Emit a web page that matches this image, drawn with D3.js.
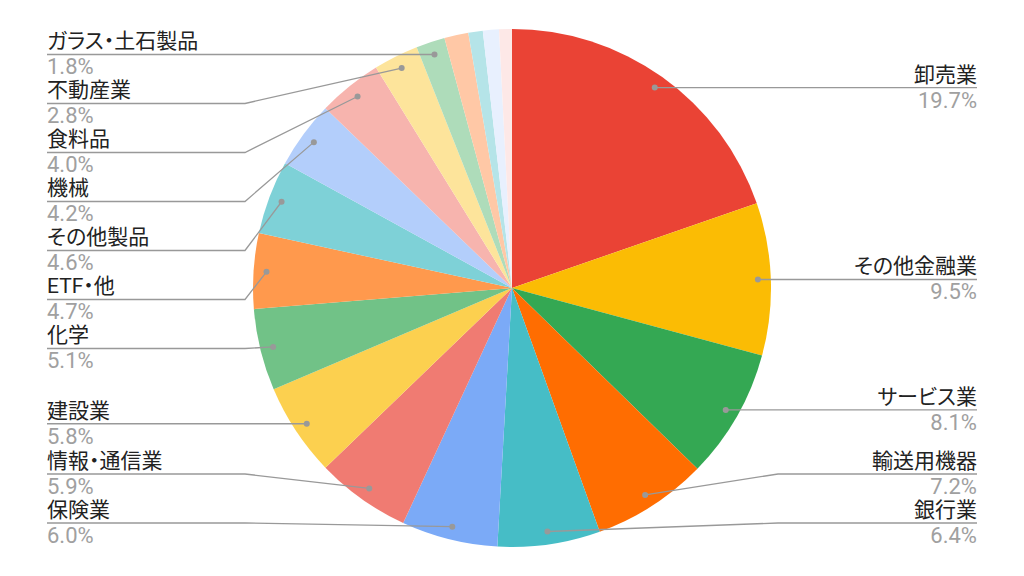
<!DOCTYPE html>
<html><head><meta charset="utf-8">
<script src="https://cdn.jsdelivr.net/npm/d3@7"></script>
<style>
html,body{margin:0;padding:0;background:#fff;}
text{font-family:Roboto,"Noto Sans CJK JP",sans-serif;font-feature-settings:"palt";}
</style></head>
<body><svg id="chart" width="1024" height="576"></svg>
<script>
const categories = ["卸売業","その他金融業","サービス業","輸送用機器","銀行業","保険業","情報・通信業","建設業","化学","ETF・他","その他製品","機械","食料品","不動産業","ガラス・土石製品","その他A","その他B","その他C","その他D"];
const values = [19.7,9.5,8.1,7.2,6.4,6.0,5.9,5.8,5.1,4.7,4.6,4.2,4.0,2.8,1.8,1.5,0.9,1.0,0.8];
const colors = ["#ea4335","#fbbc04","#34a853","#ff6d01","#46bdc6","#7baaf7","#f07b72","#fcd04f","#71c287","#ff994d","#7ed1d7","#b3cefb","#f7b4ae","#fde49b","#aedcba","#ffc8a6","#b5e4e8","#e8f0fe","#fde8e7"];
const pctLabels = ["19.7%","9.5%","8.1%","7.2%","6.4%","6.0%","5.9%","5.8%","5.1%","4.7%","4.6%","4.2%","4.0%","2.8%","1.8%","","","",""];

const W=1024,H=576,cx=512,cy=288,R=259;
const svg=d3.select("#chart");
const g=svg.append("g").attr("transform",`translate(${cx},${cy})`);
const pie=d3.pie().sort(null).value(d=>d.v);
const data=categories.map((c,i)=>({c,v:values[i],col:colors[i],p:pctLabels[i]}));
const arcs=pie(data);
const arc=d3.arc().innerRadius(0).outerRadius(R);
g.selectAll("path.slice").data(arcs).enter().append("path")
 .attr("d",arc).attr("fill",d=>d.data.col);

// labels
const dotR=R*0.95;
const labeled=arcs.filter(a=>a.data.p!=="");
labeled.forEach(a=>{
  const m=(a.startAngle+a.endAngle)/2;
  a.dx=cx+dotR*Math.sin(m); a.dy=cy-dotR*Math.cos(m);
  a.side = Math.sin(m)>=0 ? "R":"L";
});
const gap=49, yMin=53, yMax=523;
["L","R"].forEach(side=>{
  const arr=labeled.filter(a=>a.side===side).sort((a,b)=>a.dy-b.dy);
  arr.forEach((a,i)=>{ a.ly=Math.max(a.dy, yMin, i>0?arr[i-1].ly+gap:-1e9); });
  for(let i=arr.length-1;i>=0;i--){
    const a=arr[i];
    a.ly=Math.min(a.ly, yMax, i<arr.length-1?arr[i+1].ly-gap:1e9);
  }
});
const lg=svg.append("g");
labeled.forEach(a=>{
  const L=a.side==="L";
  const xEdge=L?47:977, xBend=L?245:778;
  const pts= Math.abs(a.ly-a.dy)<1 ? [[xEdge,a.ly],[a.dx,a.dy]] : [[xEdge,a.ly],[xBend,a.ly],[a.dx,a.dy]];
  lg.append("path").attr("d",d3.line()(pts)).attr("fill","none").attr("stroke","#999").attr("stroke-width",1.3);
  lg.append("circle").attr("cx",a.dx).attr("cy",a.dy).attr("r",3).attr("fill","#999");
  lg.append("text").attr("x",xEdge).attr("y",a.ly-6).attr("text-anchor",L?"start":"end")
    .attr("font-size",21).attr("fill","#222").text(a.data.c);
  lg.append("text").attr("x",xEdge).attr("y",a.ly+20).attr("text-anchor",L?"start":"end")
    .attr("font-size",22).attr("fill","#a0a0a0").text(a.data.p);
});
</script></body></html>
